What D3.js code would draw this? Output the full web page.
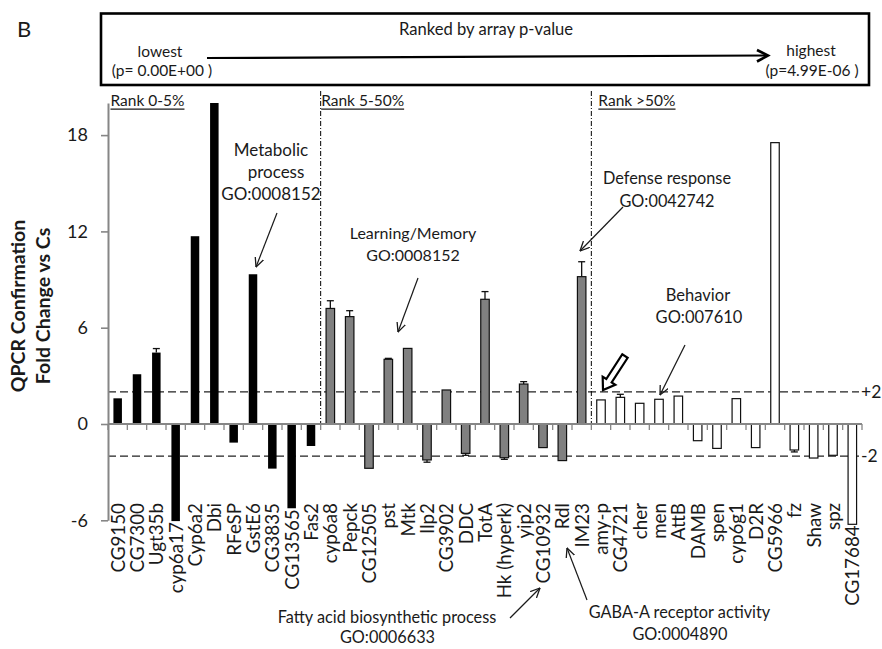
<!DOCTYPE html>
<html><head><meta charset="utf-8">
<script src="https://cdn.jsdelivr.net/npm/d3@7"></script>
<style>
body{margin:0;background:#fff}
text{font-family:Lato,'Open Sans',sans-serif;fill:#1a1a1a}
</style>
</head><body>
<svg id="c" width="882" height="649"></svg>
<script>
// ---------------- data ----------------
const categories = ["CG9150","CG7300","Ugt35b","cyp6a17","Cyp6a2","Dbi","RFeSP","GstE6","CG3835","CG13565","Fas2",
  "cyp6a8","Pepck","CG12505","pst","Mtk","Ilp2","CG3902","DDC","TotA","Hk (hyperk)","yip2","CG10932","Rdl","IM23",
  "amy-p","CG4721","cher","men","AttB","DAMB","spen","cyp6g1","D2R","CG5966","fz","Shaw","spz","CG17684"];
const foldChange = [1.6,3.1,4.45,-6.05,11.7,20,-1.16,9.33,-2.78,-5.25,-1.37,
  7.2,6.69,-2.76,4.03,4.71,-2.24,2.12,-1.83,7.77,-2.1,2.49,-1.47,-2.28,9.18,
  1.5,1.66,1.29,1.54,1.74,-1.04,-1.52,1.58,-1.47,17.53,-1.62,-2.12,-1.95,-6.25];
const errorBars = [0,0,0.25,0,0,0,0,0,0,0,0,
  0.48,0.37,0,0.06,0,0.14,0,0.12,0.48,0.1,0.15,0,0,0.93,
  0,0.19,0,0,0,0,0,0,0,0,0.12,0,0,0];
const rankGroups = ["Rank 0-5%","Rank 5-50%","Rank >50%"];
const groupSizes = [11,14,14];
const yTicks = [-6,0,6,12,18];
const refLevels = [2,-2];
const refLabels = ["+2","-2"];

// ---------------- styles per group ----------------
const groupFill = ["#000000","#808080","#ffffff"];
const groupStroke = ["none","#111","#111"];
const groupIndex = [];
groupSizes.forEach((n,g)=>{for(let i=0;i<n;i++) groupIndex.push(g);});

const svg = d3.select("#c");
const x = d3.scaleBand().domain(categories).range([108,862]).paddingInner(0.56).paddingOuter(0.28);
const y = d3.scaleLinear().domain([-6,20]).range([520.3,103]);
const step = x.step();
const x0 = x.range()[0];
const y0 = y(0);

// markers
const defs = svg.append("defs");
defs.append("marker").attr("id","head").attr("viewBox","0 0 10 10").attr("refX",9.5).attr("refY",5)
  .attr("markerWidth",10).attr("markerHeight",10).attr("markerUnits","userSpaceOnUse").attr("orient","auto")
  .append("path").attr("d","M0,0.5 L9.5,5 L0,9.5").attr("fill","none").attr("stroke","#1a1a1a").attr("stroke-width",1.3);

// ---------------- top box ----------------
svg.append("text").text("B").attr("x",17).attr("y",37).style("font-size","22px");
svg.append("rect").attr("x",101).attr("y",13.5).attr("width",768).attr("height",71.5)
  .attr("fill","none").attr("stroke","#000").attr("stroke-width",2.6);
svg.append("text").text("Ranked by array p-value").attr("x",486).attr("y",34.5)
  .attr("text-anchor","middle").style("font-size","16.6px");
svg.append("text").text("lowest").attr("x",160).attr("y",57).attr("text-anchor","middle").style("font-size","15.5px");
svg.append("text").text("(p= 0.00E+00 )").attr("x",162).attr("y",76).attr("text-anchor","middle").style("font-size","15.5px");
svg.append("text").text("highest").attr("x",811).attr("y",56).attr("text-anchor","middle").style("font-size","15.5px");
svg.append("text").text("(p=4.99E-06 )").attr("x",812).attr("y",76).attr("text-anchor","middle").style("font-size","15.5px");
svg.append("line").attr("x1",207).attr("y1",58).attr("x2",767).attr("y2",55.5).attr("stroke","#000").attr("stroke-width",2.2);
svg.append("path").attr("d","M757,50 L768,55.5 L757,61.5").attr("fill","none").attr("stroke","#000").attr("stroke-width",2.6);

// ---------------- reference dashed lines ----------------
refLevels.forEach((v,i)=>{
  svg.append("line").attr("x1",x0).attr("x2",859).attr("y1",y(v)).attr("y2",y(v))
    .attr("stroke","#222").attr("stroke-width",1.3).attr("stroke-dasharray","8,4");
  svg.append("text").text(refLabels[i]).attr("x",861).attr("y",y(v)).attr("dy","0.36em").style("font-size","17.5px");
});

// ---------------- group separators & labels ----------------
let cum = 0;
groupSizes.forEach((n,g)=>{
  const bx = x0 + cum*step;
  if(g>0){
    svg.append("line").attr("x1",bx).attr("x2",bx).attr("y1",91).attr("y2",y0)
      .attr("stroke","#000").attr("stroke-width",1).attr("stroke-dasharray","5,2,1,2");
  }
  const tx = bx + (g===0?2.5:(g===1?0.5:7));
  const t = svg.append("text").text(rankGroups[g]).attr("x",tx).attr("y",106).style("font-size","15.5px");
  const w = t.node().getComputedTextLength();
  svg.append("line").attr("x1",tx).attr("x2",tx+w).attr("y1",109.2).attr("y2",109.2).attr("stroke","#1a1a1a").attr("stroke-width",1.2);
  cum += n;
});

// ---------------- bars ----------------
const data = categories.map((c,i)=>({c, v:foldChange[i], e:errorBars[i], g:groupIndex[i]}));
svg.append("g").selectAll("rect").data(data).join("rect")
  .attr("x",d=>x(d.c)).attr("width",x.bandwidth())
  .attr("y",d=>Math.min(y(d.v),y0)).attr("height",d=>Math.abs(y(d.v)-y0))
  .attr("fill",d=>groupFill[d.g]).attr("stroke",d=>groupStroke[d.g]).attr("stroke-width",1.2);

// error bars
const eb = svg.append("g").attr("stroke","#111").attr("stroke-width",1.3);
data.filter(d=>d.e>0).forEach(d=>{
  const cx = x(d.c)+x.bandwidth()/2;
  const tip = d.v>=0 ? d.v+d.e : d.v-d.e;
  eb.append("line").attr("x1",cx).attr("x2",cx).attr("y1",y(d.v)).attr("y2",y(tip));
  eb.append("line").attr("x1",cx-3.5).attr("x2",cx+3.5).attr("y1",y(tip)).attr("y2",y(tip));
});

// ---------------- axes ----------------
const ya = svg.append("g").attr("transform",`translate(${x0},0)`)
  .call(d3.axisLeft(y).tickValues(yTicks).tickSize(7).tickSizeOuter(0).tickPadding(13).tickFormat(d=>String(d)));
ya.select(".domain").attr("stroke","#868686").attr("stroke-width",2);
ya.selectAll(".tick line").attr("stroke","#868686").attr("stroke-width",1.6);
ya.selectAll(".tick text").style("font-size","18px").attr("fill","#1a1a1a").style("font-family","Lato,sans-serif");

svg.append("line").attr("x1",x0).attr("x2",x.range()[1]).attr("y1",y0).attr("y2",y0)
  .attr("stroke","#868686").attr("stroke-width",2);
svg.append("g").selectAll("line").data(d3.range(categories.length+1)).join("line")
  .attr("x1",i=>x0+i*step).attr("x2",i=>x0+i*step).attr("y1",y0).attr("y2",y0+6)
  .attr("stroke","#868686").attr("stroke-width",1.3);

// category labels
svg.append("g").selectAll("text").data(data).join("text")
  .attr("transform",d=>`translate(${x(d.c)+x.bandwidth()/2},${Math.max(503, y(d.v)+1)}) rotate(-90)`)
  .attr("text-anchor","end").attr("dy","0.38em").style("font-size","18.8px").text(d=>d.c);

// y axis title
[["QPCR Confirmation",25],["Fold Change vs Cs",50]].forEach(([t,bx])=>{
  svg.append("text").text(t).attr("transform",`translate(${bx},306) rotate(-90)`)
    .attr("text-anchor","middle").style("font-size","19.5px").style("font-weight","bold");
});

// ---------------- annotations ----------------
const notes = [
  {lines:["Metabolic","process","GO:0008152"], x:[271,276,271], y:[156,178,200], fs:17},
  {lines:["Learning/Memory","GO:0008152"], x:[413,413], y:[239,261], fs:16},
  {lines:["Defense response","GO:0042742"], x:[667,667], y:[184,206.5], fs:16.3},
  {lines:["Behavior","GO:007610"], x:[698,699], y:[300.5,323], fs:16.5},
  {lines:["Fatty acid biosynthetic process","GO:0006633"], x:[387,387.5], y:[623,643], fs:16.3},
  {lines:["GABA-A receptor activity","GO:0004890"], x:[679.5,680], y:[618,640], fs:16.3}
];
notes.forEach(n=>n.lines.forEach((t,i)=>{
  svg.append("text").text(t).attr("x",n.x[i]).attr("y",n.y[i]).attr("text-anchor","middle").style("font-size",n.fs+"px");
}));
const arrows = [[277,213,256,267],[418,278,398,332],[623,207,580,251],[685,345,660,395],[510,618,540,588],[587,600,567,548]];
svg.append("g").selectAll("line").data(arrows).join("line")
  .attr("x1",d=>d[0]).attr("y1",d=>d[1]).attr("x2",d=>d[2]).attr("y2",d=>d[3])
  .attr("stroke","#1a1a1a").attr("stroke-width",1.2).attr("marker-end","url(#head)");

// hollow block arrow
(function(){
  const sx=625, sy=356, ex=603, ey=390;
  const L = Math.hypot(ex-sx, ey-sy), ang = Math.atan2(ey-sy, ex-sx)*180/Math.PI;
  const hl=11, w1=3.2, w2=7.5;
  const p = `M0,${-w1} L${L-hl},${-w1} L${L-hl},${-w2} L${L},0 L${L-hl},${w2} L${L-hl},${w1} L0,${w1} Z`;
  svg.append("path").attr("d",p).attr("transform",`translate(${sx},${sy}) rotate(${ang})`)
    .attr("fill","#fff").attr("stroke","#000").attr("stroke-width",2.2).attr("stroke-linejoin","miter");
})();
</script>
</body></html>
